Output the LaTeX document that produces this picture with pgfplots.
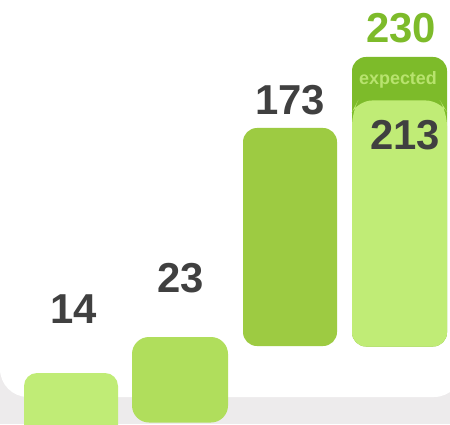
\documentclass[border=0pt]{standalone}
\usepackage{fontspec}
\setmainfont{Liberation Sans}
\usepackage{pgfplots}
\pgfplotsset{compat=1.18}
\definecolor{bggray}{HTML}{EDEBEC}
\definecolor{gA}{HTML}{C0EC76}
\definecolor{gB}{HTML}{B0DE5C}
\definecolor{gC}{HTML}{9DCB42}
\definecolor{gD}{HTML}{7DBB2A}
\definecolor{txt}{HTML}{404040}
\definecolor{exptxt}{HTML}{B8E36E}
\tikzset{num/.style={font=\bfseries\fontsize{42}{42}\selectfont, text=txt, anchor=base, inner sep=0pt}}
\begin{document}
\begin{tikzpicture}
\begin{axis}[width=450bp,height=424bp,scale only axis,
  xmin=0,xmax=450,ymin=0,ymax=424,hide axis,clip=true]
% background
\addplot[fill=bggray,draw=none] coordinates {(0,0)(450,0)(450,424)(0,424)} -- cycle;
\addplot[fill=white,draw=none,rounded corners=28bp] coordinates {(225,27)(462,27)(462,470)(0,470)(0,27)(225,27)};
% bar 1 (14)
\addplot[fill=gA,draw=none,rounded corners=13bp] coordinates {(71,-20)(118,-20)(118,51)(24,51)(24,-20)(71,-20)};
% bar 2 (23)
\addplot[fill=gB,draw=none,rounded corners=17bp] coordinates {(180,1.5)(228,1.5)(228,87)(132,87)(132,1.5)(180,1.5)};
% bar 3 (173)
\addplot[fill=gC,draw=none,rounded corners=14bp] coordinates {(290,78)(337,78)(337,296)(243,296)(243,78)(290,78)};
% bar 4 expected (230)
\addplot[fill=gD,draw=none,rounded corners=14bp] coordinates {(400,77.5)(447,77.5)(447,367)(352,367)(352,77.5)(400,77.5)};
% bar 4 actual (213)
\addplot[fill=gA,draw=none,rounded corners=14bp] coordinates {(400,77.5)(447,77.5)(447,312)(440,323.5)(358,323.5)(352,312)(352,77.5)(400,77.5)};
% labels
\node[num] at (axis cs:73.5,101) {14};
\node[num] at (axis cs:181,132) {23};
\node[num] at (axis cs:290,309) {173};
\node[num] at (axis cs:405,274) {213};
\node[num,text=gD] at (axis cs:401,381) {230};
\node[num,text=exptxt,font=\bfseries\fontsize{18}{18}\selectfont] at (axis cs:398,339) {expected};
\end{axis}
\end{tikzpicture}
\end{document}
